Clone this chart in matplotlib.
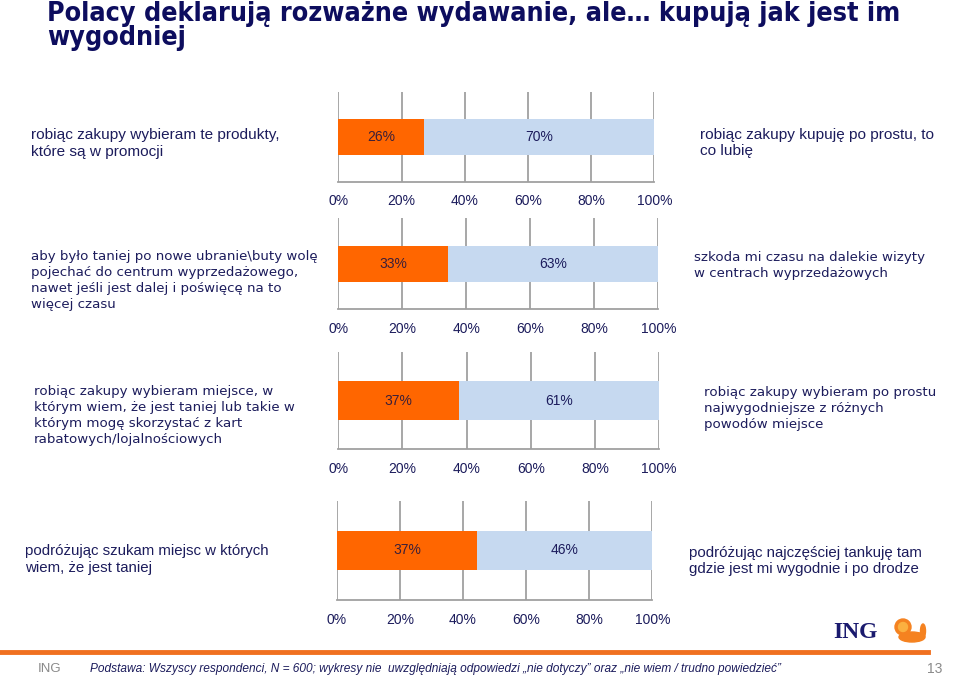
import numpy as np
import matplotlib
matplotlib.use("Agg")
import matplotlib.pyplot as plt
from matplotlib.patches import Ellipse, Circle

W, H = 960, 679

left_labels = [
    "robiąc zakupy wybieram te produkty,\nktóre są w promocji",
    "aby było taniej po nowe ubranie\\buty wolę\npojechać do centrum wyprzedażowego,\nnawet jeśli jest dalej i poświęcę na to\nwięcej czasu",
    "robiąc zakupy wybieram miejsce, w\nktórym wiem, że jest taniej lub takie w\nktórym mogę skorzystać z kart\nrabatowych/lojalnościowych",
    "podróżując szukam miejsc w których\nwiem, że jest taniej",
]
right_labels = [
    "robiąc zakupy kupuję po prostu, to\nco lubię",
    "szkoda mi czasu na dalekie wizyty\nw centrach wyprzedażowych",
    "robiąc zakupy wybieram po prostu\nnajwygodniejsze z różnych\npowodów miejsce",
    "podróżując najczęściej tankuję tam\ngdzie jest mi wygodnie i po drodze",
]
pct_left = [26, 33, 37, 37]
pct_right = [70, 63, 61, 46]
ticks = [0, 20, 40, 60, 80, 100]
tick_labels = ["0%", "20%", "40%", "60%", "80%", "100%"]

ORANGE = "#ff6600"
LBLUE = "#c6d9f0"
NAVY = "#1c1c5c"
GRAY = "#a0a0a0"

# panel boxes in pixels: x0, x1, top of grid, axis line
boxes = [(338.3, 654.3, 91.7, 181.7),
         (338.3, 658.3, 218.3, 309.3),
         (338.3, 659.0, 352.3, 449.3),
         (336.7, 652.3, 501.0, 600.0)]
# text anchors (x, y center) in pixels
left_pos = [(31, 143.5), (31, 280.5), (34, 415.5), (25, 559.5)]
right_pos = [(700, 143), (694, 265.5), (704, 408.5), (689, 561)]
fams = ["Liberation Sans", "DejaVu Sans", "DejaVu Sans", "Liberation Sans"]
fsz = [11.1, 9.65, 9.65, 10.85]
lsp = [1.22, 1.27, 1.27, 1.27]

fig = plt.figure(figsize=(W / 100, H / 100), dpi=100)

def px(x, y):
    return x / W, 1 - y / H

for i, (x0, x1, yt, yb) in enumerate(boxes):
    ax = fig.add_axes([x0 / W, 1 - yb / H, (x1 - x0) / W, (yb - yt) / H])
    tot = pct_left[i] + pct_right[i]
    a = pct_left[i] / tot * 100
    b = pct_right[i] / tot * 100
    ax.barh([0], [a], height=0.4, color=ORANGE, zorder=3)
    ax.barh([0], [b], left=[a], height=0.4, color=LBLUE, zorder=3)
    ax.text(a / 2, 0, f"{pct_left[i]}%", ha="center", va="center",
            color="#3a1f3a", fontsize=10, family="Liberation Sans", zorder=4)
    ax.text(a + b / 2, 0, f"{pct_right[i]}%", ha="center", va="center",
            color=NAVY, fontsize=10, family="Liberation Sans", zorder=4)
    ax.set_xlim(0, 100)
    ax.set_ylim(-0.5, 0.5)
    ax.set_xticks(ticks)
    ax.set_xticklabels(tick_labels, family="Liberation Sans", fontsize=10, color=NAVY)
    ax.set_yticks([])
    ax.tick_params(axis="x", length=0, pad=9)
    ax.grid(axis="x", color=GRAY, linewidth=1.3, zorder=1)
    for s in ["top", "left", "right"]:
        ax.spines[s].set_visible(False)
    ax.spines["bottom"].set_color(GRAY)
    ax.spines["bottom"].set_linewidth(1.3)
    ax.patch.set_alpha(0)

    lx, ly = px(*left_pos[i])
    fig.text(lx, ly, left_labels[i], ha="left", va="center", color=NAVY,
             fontsize=fsz[i], family=fams[i], linespacing=lsp[i])
    rx, ry = px(*right_pos[i])
    fig.text(rx, ry, right_labels[i], ha="left", va="center", color=NAVY,
             fontsize=fsz[i], family=fams[i], linespacing=lsp[i])

# title
tx, ty = px(47, 1)
fig.text(tx, ty, "Polacy deklarują rozważne wydawanie, ale… kupują jak jest im\nwygodniej",
         ha="left", va="top", fontsize=19.3, fontweight="bold", color="#0d0d5e",
         family="DejaVu Sans", fontstretch="condensed", linespacing=0.88)

# footer
fig.add_artist(plt.Line2D([0, 928 / W], [1 - 652 / H] * 2, color="#f07020", linewidth=3.5))
fx, fy = px(38, 669)
fig.text(fx, fy, "ING", ha="left", va="center", color="#8a8a8a", fontsize=9.5, family="Liberation Sans")
fx, fy = px(90, 669)
fig.text(fx, fy, "Podstawa: Wszyscy respondenci, N = 600; wykresy nie  uwzględniają odpowiedzi „nie dotyczy” oraz „nie wiem / trudno powiedzieć”",
         ha="left", va="center", color=NAVY, fontsize=8.6, style="italic", family="Liberation Sans")
fx, fy = px(942, 669)
fig.text(fx, fy, "13", ha="right", va="center", color="#8a8a8a", fontsize=10, family="Liberation Sans")

# ING logo
lx, ly = px(833, 632)
fig.text(lx, ly, "ING", ha="left", va="center", color="#1a1a6e", fontsize=17,
         fontweight="bold", family="Liberation Serif")
lax = fig.add_axes([892 / W, 1 - 645 / H, 36 / W, 28 / H])
lax.set_xlim(0, 36)
lax.set_ylim(0, 28)
lax.axis("off")
lax.add_patch(Ellipse((20, 8), 26, 10, color="#f58220"))
lax.add_patch(Circle((11, 18), 8, color="#f58220"))
lax.add_patch(Circle((11, 18), 4.5, color="#fbb040"))
lax.add_patch(Ellipse((31, 14), 5, 14, color="#f58220"))

fig.savefig("out.png", dpi=100)
